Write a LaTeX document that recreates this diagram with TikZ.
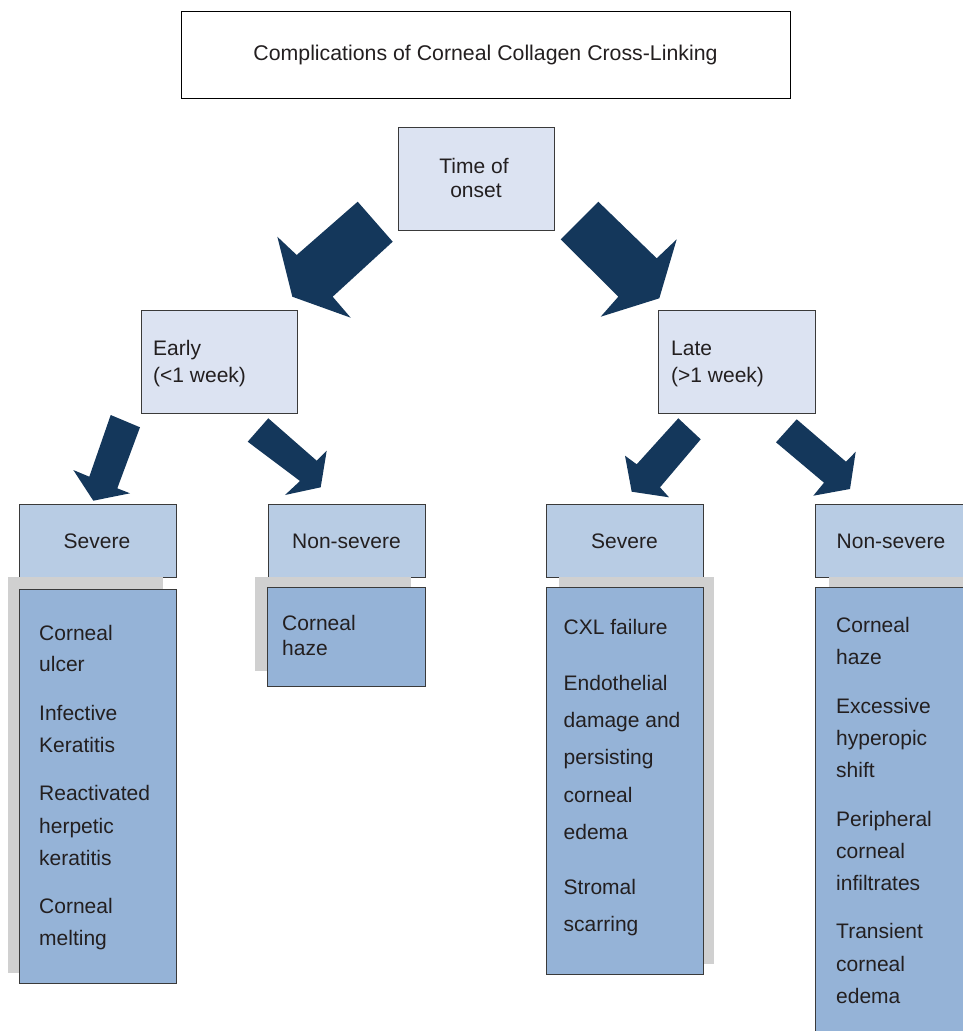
\documentclass[tikz,border=0pt]{standalone}
\usepackage{fontspec}
\setmainfont{Liberation Sans}
\usetikzlibrary{fit}
\definecolor{txt}{HTML}{231F20}
\definecolor{onsetfill}{HTML}{DCE3F2}
\definecolor{headfill}{HTML}{B8CCE4}
\definecolor{bodyfill}{HTML}{95B3D7}
\definecolor{shadefill}{HTML}{D0D0D0}
\definecolor{arrowfill}{HTML}{14375B}
\definecolor{edge}{HTML}{3A3A3A}
\begin{document}
\begin{tikzpicture}[x=1pt,y=-1pt,
  every node/.style={text=txt, font=\fontsize{21}{24.6}\selectfont},
  framebox/.style={draw=black, line width=0.9pt, inner sep=0pt},
  onsetbox/.style={draw=edge, line width=1pt, fill=onsetfill, inner sep=0pt},
  headbox/.style={draw=edge, line width=1pt, fill=headfill, inner sep=0pt},
  bodybox/.style={draw=edge, line width=1pt, fill=bodyfill, inner sep=0pt},
  shadow/.style={fill=shadefill},
  bigarrow/.style={fill=arrowfill},
  textline/.style={anchor=base west, inner sep=0pt},
  midline/.style={anchor=base, inner sep=0pt}]
\useasboundingbox (0,0) rectangle (963,1031);

% heading
\node (title) [framebox, fit={(181,11) (790,98)}] {};
\node (titletext) [midline, font=\fontsize{21.3}{25}\selectfont] at (485.5,60)
  {Complications of Corneal Collagen Cross-Linking};

% first two levels of the tree
\node (onset) [onsetbox, fit={(398,127) (554,230)}] {};
\node (onsetA) [midline] at (474,173) {Time of};
\node (onsetB) [midline] at (476,197) {onset};
\node (early) [onsetbox, fit={(141,310) (297,413)}] {};
\node (late)  [onsetbox, fit={(658,310) (815,413)}] {};
\node (earlyA) [textline] at (153,355) {Early};
\node (earlyB) [textline] at (153,382) {(<1 week)};
\node (lateA)  [textline] at (671,355) {Late};
\node (lateB)  [textline] at (671,382) {(>1 week)};

% block arrows
\fill[bigarrow] (357.7,201.7) -- (392.7,241.7) -- (332.7,296.7) -- (350.7,317.7)
  -- (292.3,296.7) -- (277.3,236.7) -- (296.7,255) -- cycle;
\fill[bigarrow] (598.3,201.7) -- (656.7,258.3) -- (676.7,239.3) -- (659.3,298.3)
  -- (600.7,316.7) -- (618.3,296.7) -- (560.7,239.3) -- cycle;
\fill[bigarrow] (110.7,415) -- (140,427.3) -- (117.3,488.3) -- (130,493.3)
  -- (93.3,500.7) -- (73.3,470) -- (89.3,476.7) -- cycle;
\fill[bigarrow] (268.3,418.3) -- (316.7,460.7) -- (326.7,450.7) -- (320.7,487.3)
  -- (285,495) -- (300,481) -- (247.7,441.7) -- cycle;
\fill[bigarrow] (678.3,418.3) -- (700.7,439.3) -- (660,487.3) -- (669,497.3)
  -- (631.7,491.7) -- (625,455.7) -- (636.7,464.3) -- cycle;
\fill[bigarrow] (796.7,419.3) -- (846,461.7) -- (855.7,451.7) -- (850,489)
  -- (813.3,495.7) -- (824,482.7) -- (776,442.3) -- cycle;

% severity headers
\node (sevL)  [headbox, fit={(19,504) (176,577)}] {};
\node (nsevL) [headbox, fit={(268,504) (425,577)}] {};
\node (sevR)  [headbox, fit={(546,504) (703,577)}] {};
\node (nsevR) [headbox, fit={(815,504) (972,577)}] {};
\node (sevLt)  [midline] at (97,548) {Severe};
\node (nsevLt) [midline] at (346.5,548) {Non-severe};
\node (sevRt)  [midline] at (624.5,548) {Severe};
\node (nsevRt) [midline] at (891,548) {Non-severe};

% shadows behind the lists
\fill[shadow] (8,577) rectangle (163,973);
\fill[shadow] (255,577) rectangle (411,671);
\fill[shadow] (559,577) rectangle (714,964);
\fill[shadow] (829,577) rectangle (985,1040);

% lists of complications
\node (listSL)  [bodybox, fit={(19,589) (176,983)}] {};
\node (listNL)  [bodybox, fit={(267,587) (425,686)}] {};
\node (listSR)  [bodybox, fit={(546,587) (703,974)}] {};
\node (listNR)  [bodybox, fit={(815,587) (972,1040)}] {};

\foreach \t/\y [count=\i] in {Corneal/640, ulcer/671, Infective/720, Keratitis/752,
    Reactivated/800, herpetic/833, keratitis/865, Corneal/913, melting/945}
  \node (sl\i) [textline] at (39,\y) {\t};
\foreach \t/\y [count=\i] in {Corneal/630, haze/655}
  \node (nl\i) [textline] at (282,\y) {\t};
\foreach \t/\y [count=\i] in {CXL failure/634, Endothelial/690, damage and/727,
    persisting/764, corneal/802, edema/839, Stromal/894, scarring/931}
  \node (sr\i) [textline] at (563.5,\y) {\t};
\foreach \t/\y [count=\i] in {Corneal/632, haze/664, Excessive/713, hyperopic/745,
    shift/777, Peripheral/826, corneal/858, infiltrates/890, Transient/938,
    corneal/971, edema/1003}
  \node (nr\i) [textline] at (836,\y) {\t};
\end{tikzpicture}
\end{document}
